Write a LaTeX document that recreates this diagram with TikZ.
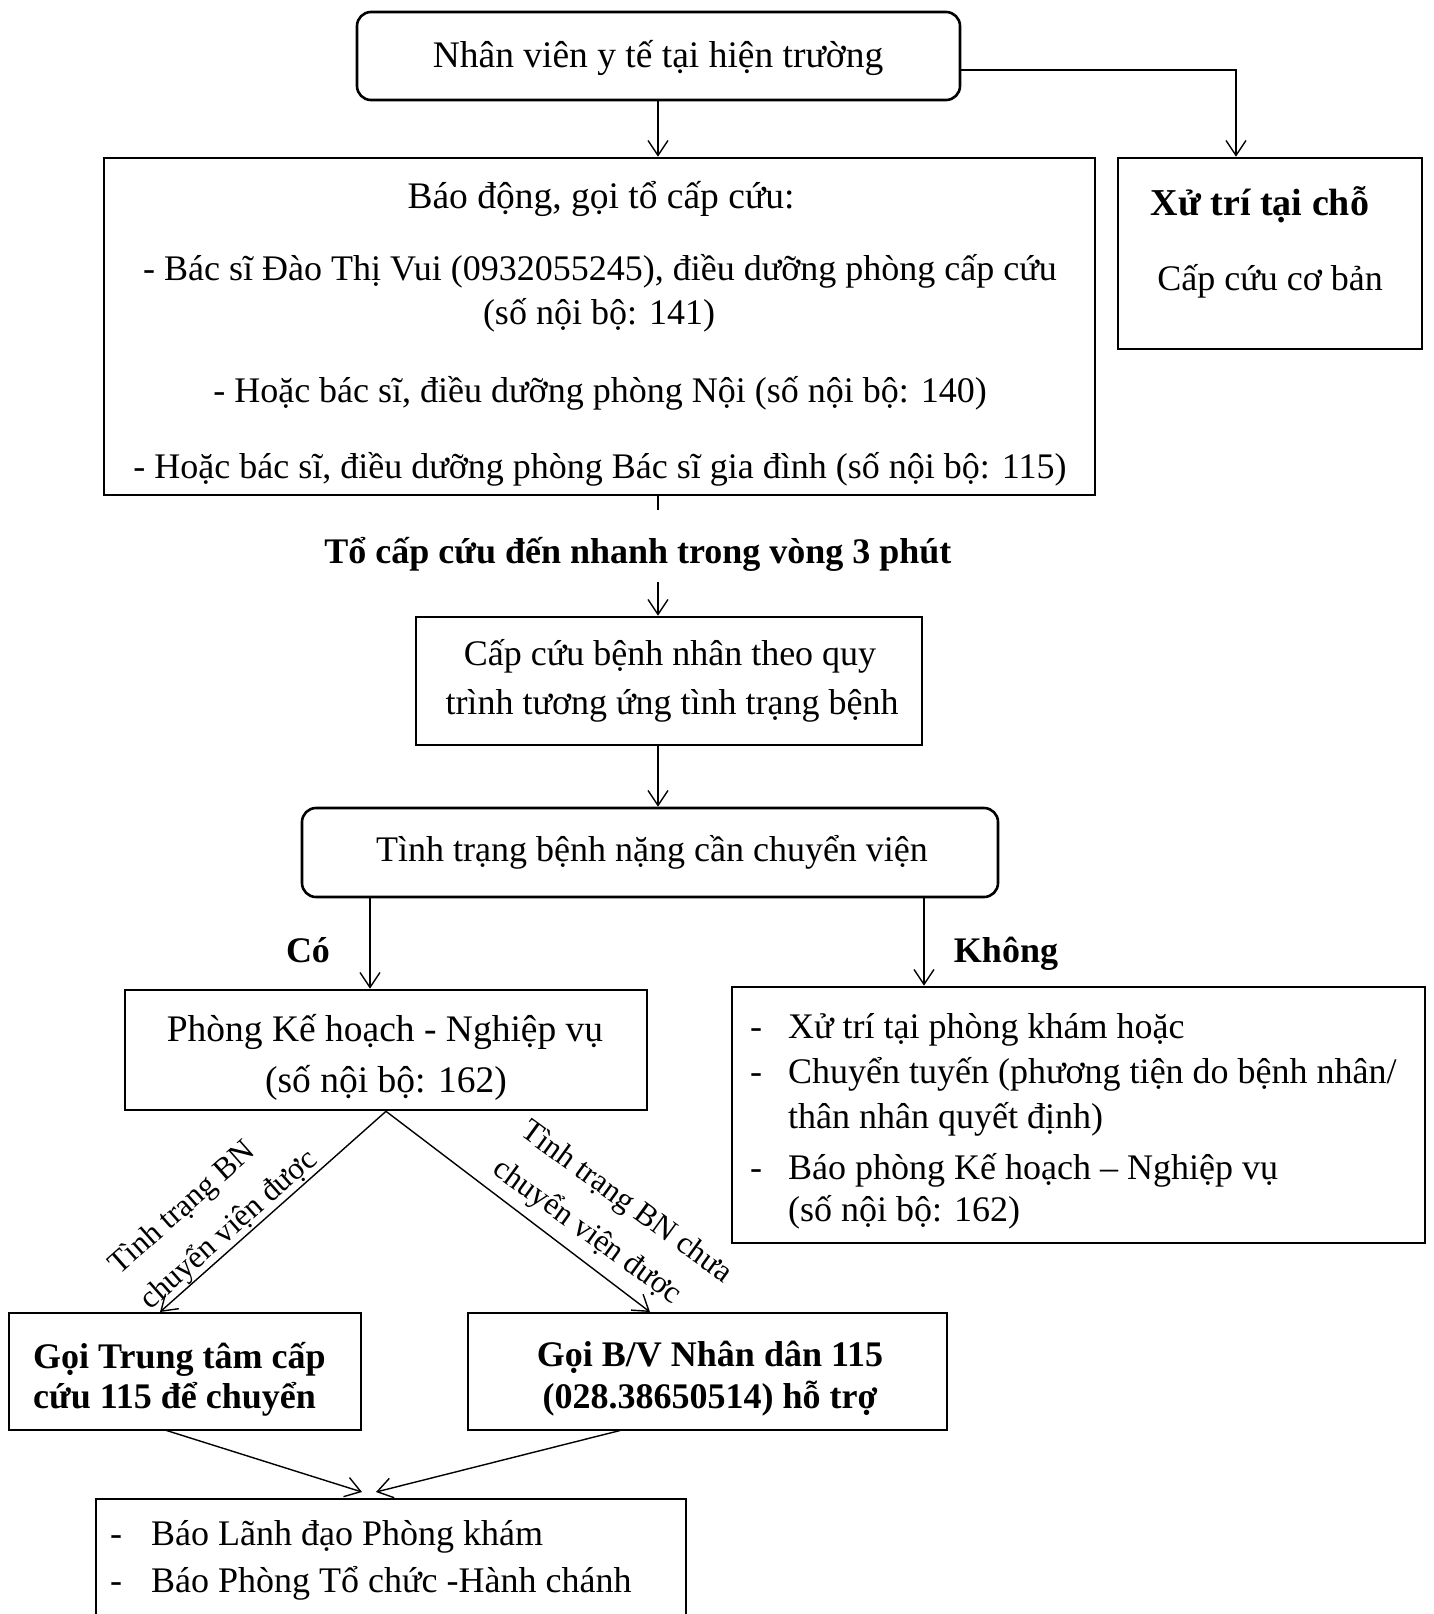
\documentclass[tikz,border=0pt]{standalone}
\usepackage{fontspec}
\setmainfont{Liberation Serif}
\usetikzlibrary{arrows.meta}
\begin{document}
\begin{tikzpicture}[x=1pt,y=-1pt,
  boxshape/.style={draw, line width=2.6pt, inner sep=0pt},
  conn/.style={line width=1.4pt},
  arr/.style={conn, -{Straight Barb[length=15pt,width=20pt,line width=1.4pt]}},
  txt/.style={inner sep=0pt, anchor=base, font=\fontsize{36}{43}\selectfont},
  txtl/.style={txt, anchor=base west},
  btxt/.style={inner sep=0pt, anchor=base, font=\fontsize{36}{43}\selectfont\bfseries},
  btxtl/.style={btxt, anchor=base west},
  lbl/.style={inner sep=0pt, font=\fontsize{31.5}{47}\selectfont, align=left},
]
\clip (0,0) rectangle (1434,1614);
\fill[white] (0,0) rectangle (1434,1614);

% boxes
\node[boxshape, rounded corners=14pt, minimum width=603pt, minimum height=88pt] (b1) at (658.5,56) {};
\node[boxshape, minimum width=991pt, minimum height=337pt] (b2) at (599.5,326.5) {};
\node[boxshape, minimum width=304pt, minimum height=191pt] (b3) at (1270,253.5) {};
\node[boxshape, minimum width=506pt, minimum height=128pt] (b4) at (669,681) {};
\node[boxshape, rounded corners=14pt, minimum width=696pt, minimum height=89pt] (b5) at (650,852.5) {};
\node[boxshape, minimum width=522pt, minimum height=120pt] (b6) at (386,1050) {};
\node[boxshape, minimum width=693pt, minimum height=256pt] (b7) at (1078.5,1115) {};
\node[boxshape, minimum width=352pt, minimum height=117pt] (b8) at (185,1371.5) {};
\node[boxshape, minimum width=479pt, minimum height=117pt] (b9) at (707.5,1371.5) {};
\node[boxshape, minimum width=590pt, minimum height=161pt] (b10) at (391,1579.5) {};

% texts
\node[txt, font=\fontsize{37.5}{43}\selectfont] (t1) at (658,67) {Nhân viên y tế tại hiện trường};
\node[txt, font=\fontsize{37.5}{43}\selectfont] (t2a) at (601,208) {Báo động, gọi tổ cấp cứu:};
\node[txt] (t2b) at (600,280) {- Bác sĩ Đào Thị Vui (0932055245), điều dưỡng phòng cấp cứu};
\node[txt] (t2c) at (599,324) {(số nội bộ: 141)};
\node[txt] (t2d) at (600,402) {- Hoặc bác sĩ, điều dưỡng phòng Nội (số nội bộ: 140)};
\node[txt] (t2e) at (600,478) {- Hoặc bác sĩ, điều dưỡng phòng Bác sĩ gia đình (số nội bộ: 115)};
\node[btxt, font=\fontsize{38}{43}\selectfont\bfseries] (t3a) at (1260,215) {Xử trí tại chỗ};
\node[txt] (t3b) at (1270,290) {Cấp cứu cơ bản};
\node[btxt] (tq) at (638,563) {Tổ cấp cứu đến nhanh trong vòng 3 phút};
\node[txt] (t4a) at (670,665) {Cấp cứu bệnh nhân theo quy};
\node[txt] (t4b) at (672,714) {trình tương ứng tình trạng bệnh};
\node[txt] (t5) at (652,861) {Tình trạng bệnh nặng cần chuyển viện};
\node[btxt] (co) at (308,962) {Có};
\node[btxt] (khong) at (1006,962) {Không};
\node[txt, font=\fontsize{37.5}{43}\selectfont] (t6a) at (385,1041) {Phòng Kế hoạch - Nghiệp vụ};
\node[txt, font=\fontsize{37.5}{43}\selectfont] (t6b) at (386,1092) {(số nội bộ: 162)};

\node[txtl] (d7a) at (750,1038) {-};
\node[txtl] (d7b) at (750,1083) {-};
\node[txtl] (d7d) at (750,1179) {-};
\node[txtl] (t7a) at (788,1038) {Xử trí tại phòng khám hoặc};
\node[txtl] (t7b) at (788,1083) {Chuyển tuyến (phương tiện do bệnh nhân/};
\node[txtl] (t7c) at (788,1128) {thân nhân quyết định)};
\node[txtl] (t7d) at (788,1179) {Báo phòng Kế hoạch – Nghiệp vụ};
\node[txtl] (t7e) at (788,1221) {(số nội bộ: 162)};

\node[btxtl] (t8a) at (33,1368) {Gọi Trung tâm cấp};
\node[btxtl] (t8b) at (33,1408) {cứu 115 để chuyển};
\node[btxt] (t9a) at (710,1366) {Gọi B/V Nhân dân 115};
\node[btxt] (t9b) at (710,1408) {(028.38650514) hỗ trợ};

\node[txtl] (d10a) at (110,1545) {-};
\node[txtl] (d10b) at (110,1592) {-};
\node[txtl] (t10a) at (151,1545) {Báo Lãnh đạo Phòng khám};
\node[txtl] (t10b) at (151,1592) {Báo Phòng Tổ chức -Hành chánh};

% diagonal labels
\node[lbl, rotate=41.5] (lab1) at (214,1213) {Tình trạng BN\\chuyển viện được};
\node[lbl, rotate=-36] (lab2) at (612,1222) {Tình trạng BN chưa\\chuyển viện được};

% connector coordinates
\coordinate (c13) at (1236,70);
\coordinate (g0) at (658,100);
\coordinate (g1) at (658,510);
\coordinate (g2) at (658,582);
\coordinate (cl) at (370,900);
\coordinate (cr) at (924,900);
\coordinate (t8) at (160,1312);
\coordinate (t9) at (650,1312);
\coordinate (s8) at (165,1430);
\coordinate (s9) at (622,1430);
\coordinate (e8) at (362,1492);
\coordinate (e9) at (376,1492);

% connectors
\draw[arr] (g0 |- b1.south) -- (g0 |- b2.north);
\draw[arr] (b1.east |- c13) -- (c13) -- (c13 |- b3.north);
\draw[conn] (g1 |- b2.south) -- (g1);
\draw[arr] (g2) -- (g2 |- b4.north);
\draw[arr] (g2 |- b4.south) -- (g2 |- b5.north);
\draw[arr] (cl |- b5.south) -- (cl |- b6.north);
\draw[arr] (cr |- b5.south) -- (cr |- b7.north);
\draw[arr] (b6.south) -- (t8);
\draw[arr] (b6.south) -- (t9);
\draw[arr] (s8) -- (e8);
\draw[arr] (s9) -- (e9);
\end{tikzpicture}
\end{document}
